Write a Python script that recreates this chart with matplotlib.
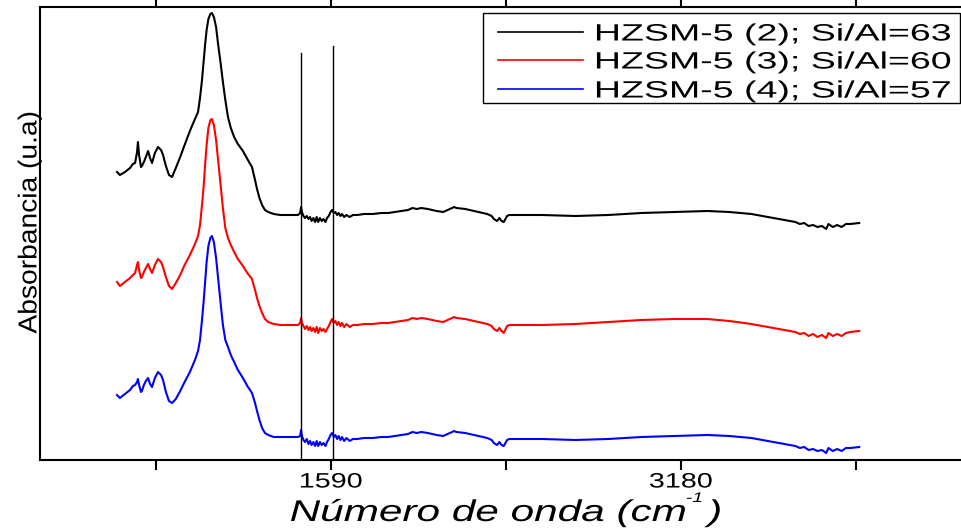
import matplotlib
matplotlib.use("Agg")
import matplotlib.pyplot as plt
from matplotlib.ticker import FixedLocator, FixedFormatter
from matplotlib.patheffects import AbstractPathEffect
from matplotlib.transforms import Affine2D
from matplotlib.patches import Rectangle
from matplotlib.lines import Line2D

# ---------------- data (wavenumber in cm-1, absorbance in arbitrary units, stacked) -------------
wavenumber = [
    618, 631, 654, 677, 690, 700, 709, 713, 718, 727, 731, 740, 749, 759, 768, 777, 790, 804, 818, 827, 840, 854, 868,
    885, 905, 925, 949, 972, 986, 995, 1004, 1012, 1018, 1025, 1033, 1042, 1049, 1058, 1068, 1077, 1088, 1099, 1110,
    1122, 1135, 1150, 1167, 1190, 1210, 1231, 1245, 1254, 1265, 1277, 1290, 1305, 1330, 1360, 1400, 1440,
    1450, 1454, 1458, 1465, 1472, 1480, 1488, 1495, 1502, 1510, 1518, 1525, 1532, 1540, 1548, 1556, 1565, 1572, 1580,
    1588, 1595, 1603, 1610, 1618, 1625, 1633, 1640, 1650, 1660, 1675, 1690, 1710, 1740, 1780, 1820, 1850, 1880, 1910,
    1940, 1960, 1980, 2000, 2030, 2070, 2100, 2130, 2150, 2160, 2200, 2260, 2300, 2320, 2330, 2345, 2355, 2365, 2375,
    2390, 2400, 2450, 2550, 2700, 2850, 3000, 3150, 3300, 3400, 3500, 3600, 3650, 3700, 3720, 3740, 3760, 3780, 3800,
    3820, 3840, 3850, 3870, 3890, 3910, 3930, 3950, 3990,
]

hzsm5_2 = [
    288, 285, 288, 292, 296, 297, 308, 318, 305, 293, 294, 298, 303, 309, 302, 297, 307, 313, 310, 305, 294, 285, 283,
    292, 303, 315, 329, 341, 348, 362, 380, 400, 415, 430, 441, 446, 447, 443, 433, 416, 398, 378, 360,
    343, 332, 323, 316, 309, 301, 293, 280, 271, 262, 255, 250, 248, 246, 245, 245, 245,
    247, 253, 248, 244, 242, 244, 241, 243, 239, 242, 238, 243, 238, 242, 239, 241, 238, 242, 244,
    248, 250, 247, 248, 245, 247, 244, 246, 243, 245, 243, 245, 245, 246, 246, 247, 247, 248, 249,
    250, 252, 251, 252, 251, 249, 248, 251, 253, 252, 251, 248, 246, 244, 241, 239, 242, 239, 238,
    244, 245, 245, 245, 244, 245, 247, 248, 249, 248, 246, 242, 240, 238, 236, 237, 234, 235, 233,
    234, 231, 236, 233, 235, 233, 236, 236, 237,
]

hzsm5_3 = [
    178, 174, 178, 182, 185, 187, 195, 198, 190, 182, 183, 188, 192, 196, 191, 187, 195, 201, 198, 193, 183, 174, 171,
    177, 185, 195, 205, 216, 224, 235, 255, 275, 295, 315, 332, 340, 341, 335, 320, 300, 275, 252, 232,
    222, 215, 208, 201, 194, 187, 181, 170, 162, 154, 147, 141, 138, 136, 135, 135, 135,
    137, 142, 137, 134, 131, 134, 130, 133, 129, 132, 128, 133, 127, 132, 129, 131, 128, 131, 134,
    138, 141, 137, 139, 135, 138, 134, 137, 133, 136, 133, 135, 135, 136, 136, 137, 137, 138, 139,
    140, 142, 141, 142, 141, 139, 138, 141, 143, 142, 141, 138, 136, 134, 131, 129, 132, 129, 127,
    134, 135, 135, 135, 136, 138, 140, 141, 141, 139, 136, 132, 130, 128, 126, 127, 124, 126, 123,
    125, 122, 127, 124, 126, 124, 127, 128, 129,
]

hzsm5_4 = [
    65, 62, 66, 70, 74, 75, 78, 81, 75, 68, 69, 75, 79, 82, 76, 73, 82, 88, 85, 80, 68, 59, 57,
    61, 69, 78, 88, 100, 109, 120, 140, 160, 178, 198, 214, 222, 224, 218, 202, 182, 158, 135, 120,
    113, 105, 98, 90, 82, 74, 67, 57, 49, 40, 32, 27, 25, 23, 23, 23, 23,
    24, 30, 24, 20, 18, 21, 16, 19, 15, 18, 14, 19, 14, 18, 15, 17, 14, 18, 21,
    25, 27, 23, 25, 21, 24, 20, 23, 19, 22, 19, 21, 21, 22, 22, 23, 23, 24, 25,
    26, 28, 27, 28, 27, 25, 24, 27, 29, 28, 27, 24, 22, 20, 17, 15, 18, 15, 14,
    20, 21, 21, 21, 20, 21, 23, 24, 25, 24, 22, 18, 16, 14, 12, 13, 10, 11, 9,
    10, 7, 12, 9, 11, 9, 12, 12, 13,
]

series_labels = ["HZSM-5 (2); Si/Al=63", "HZSM-5 (3); Si/Al=60", "HZSM-5 (4); Si/Al=57"]
series_colors = ["black", "red", "blue"]

marker_lines_x = [1454, 1597]        # vertical reference lines (pyridine bands)
marker_lines_top = [407, 414]

tick_values = [795, 1590, 2385, 3180, 3975]
tick_labels = ["", "1590", "", "3180", ""]


# ---------------- helper: horizontally stretched text (text stays a real Text artist) ----------
class StretchX(AbstractPathEffect):
    def __init__(self, sx, anchor="left"):
        super().__init__()
        self.sx = sx
        self.anchor = anchor

    def draw_path(self, renderer, gc, tpath, affine, rgbFace=None):
        ext = tpath.transformed(affine).get_extents()
        if self.anchor == "left":
            x0 = ext.x0
        elif self.anchor == "right":
            x0 = ext.x1
        else:
            x0 = 0.5 * (ext.x0 + ext.x1)
        aff = affine + Affine2D().translate(-x0, 0).scale(self.sx, 1.0).translate(x0, 0)
        renderer.draw_path(gc, tpath, aff, rgbFace)


# ---------------- figure ----------------
W, H = 962, 531
fig = plt.figure(figsize=(W / 100, H / 100), dpi=100)


def fx(px):
    return px / W


def fy(py):
    return 1 - py / H


left_px, right_px, top_px, bottom_px = 40, 1010, 7, 460
ax = fig.add_axes([fx(left_px), fy(bottom_px), (right_px - left_px) / W, (bottom_px - top_px) / H])

for ys, lab, col in zip([hzsm5_2, hzsm5_3, hzsm5_4], series_labels, series_colors):
    ax.plot(wavenumber, ys, color=col, lw=1.5, label=lab)

for xv, top in zip(marker_lines_x, marker_lines_top):
    ax.plot([xv, xv], [0, top], color="black", lw=1.0)

ax.set_xlim(268, 4675)
ax.set_ylim(0, 453)

ax.xaxis.set_major_locator(FixedLocator(tick_values))
ax.xaxis.set_major_formatter(FixedFormatter(tick_labels))
ax.tick_params(axis="x", which="major", direction="out", length=7, width=1.5,
               top=True, bottom=True, labelsize=15, pad=2)
ax.set_yticks([])
for t in ax.xaxis.get_major_ticks():
    t.label1.set_fontfamily("Liberation Sans")
    t.label1.set_path_effects([StretchX(1.38, "center")])

for s in ax.spines.values():
    s.set_linewidth(1.5)

# x label (italic, with raised "-1")
xl_pe = [StretchX(1.41, "left")]
fig.text(fx(290), fy(521), "Número de onda (cm", ha="left", va="baseline", fontsize=21.6,
         style="italic", family="Liberation Sans", path_effects=xl_pe)
fig.text(fx(686), fy(502), "-1", ha="left", va="baseline", fontsize=10,
         style="italic", family="Liberation Sans", path_effects=xl_pe)
fig.text(fx(707), fy(521), ")", ha="left", va="baseline", fontsize=21.6,
         style="italic", family="Liberation Sans", path_effects=xl_pe)

# y label
fig.text(fx(30), fy(222), "Absorbancia (u.a)", rotation=90, ha="center", va="center",
         fontsize=20.3, family="Liberation Sans", path_effects=[StretchX(0.92, "center")])

# legend (drawn box, handles and stretched labels)
leg_left, leg_top, leg_right, leg_bottom = 483, 13, 960, 103
fig.patches.append(Rectangle((fx(leg_left), fy(leg_bottom)), (leg_right - leg_left) / W,
                             (leg_bottom - leg_top) / H, transform=fig.transFigure,
                             facecolor="white", edgecolor="black", lw=1.0, zorder=5))
row_y = [32, 60, 89]
for ry, lab, col in zip(row_y, series_labels, series_colors):
    fig.lines.append(Line2D([fx(498), fx(583)], [fy(ry), fy(ry)], transform=fig.transFigure,
                            color=col, lw=1.2, zorder=6))
    fig.text(fx(595), fy(ry + 8.5), lab, ha="left", va="baseline", fontsize=17,
             family="Liberation Sans", path_effects=[StretchX(1.59, "left")], zorder=7)

fig.savefig("out.png", dpi=100)
